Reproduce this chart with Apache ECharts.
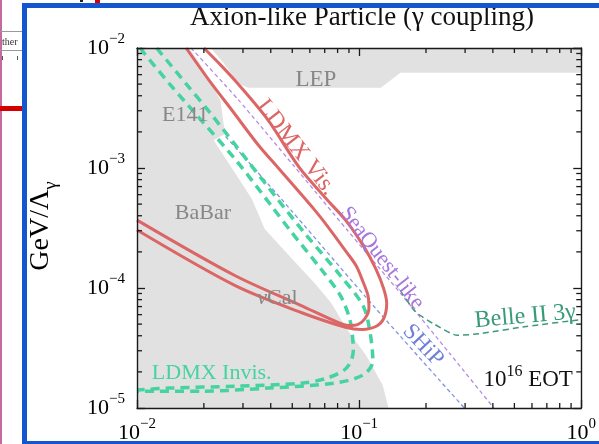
<!DOCTYPE html>
<html><head><meta charset="utf-8">
<script src="https://cdn.jsdelivr.net/npm/echarts@6/dist/echarts.min.js"></script>
<style>html,body{margin:0;padding:0;background:#fff;overflow:hidden}#c{width:599px;height:444px}</style>
</head><body><div id="c"></div>
<script>
// ---------------- data: mass m [GeV], coupling g [1/GeV] ----------------
const xTickExponents = [-2, -1, 0];
const yTickExponents = [-5, -4, -3, -2];

// excluded region E141 / BaBar / nuCal (gray)
const e141Region = [[0.01,0.01],[0.01716,0.01],[0.0190,7.66e-3],[0.02083,5.75e-3],[0.02377,3.64e-3],
  [0.02452,2.35e-3],[0.02502,1.94e-3],[0.02214,1.70e-3],[0.0277,9.03e-4],[0.03294,5.50e-4],
  [0.03759,3.10e-4],[0.04753,1.93e-4],[0.06324,1.09e-4],[0.07517,7.42e-5],[0.0876,4.60e-5],
  [0.1074,2.75e-5],[0.1277,1.55e-5],[0.1357,1e-5],[0.01,1e-5]];
// excluded region LEP (gray)
const lepRegion = [[0.02147,0.01],[0.02452,7.51e-3],[0.0277,5.53e-3],[0.02944,4.93e-3],[0.03162,4.66e-3],
  [0.1251,4.66e-3],[0.1534,6.21e-3],[1,6.21e-3],[1,0.01]];
// LDMX visible (two contours)
const ldmxVisInner = [[0.01664,0.01],[0.02104,5.43e-3],[0.02687,3.00e-3],[0.03501,1.57e-3],[0.04337,9.94e-4],
  [0.0626,4.54e-4],[0.07365,3.10e-4],[0.0876,2.00e-4],[0.0970,1.53e-4],[0.1041,1.128e-4],[0.1096,8.64e-5],
  [0.1107,6.74e-5],[0.1063,5.57e-5],[0.0990,4.97e-5],[0.0903,4.87e-5],[0.0824,5.06e-5],[0.05483,7.14e-5],
  [0.0277,1.265e-4],[0.01,3.68e-4]];
const ldmxVisOuter = [[0.0200,0.01],[0.02377,7.23e-3],[0.0277,5.33e-3],[0.03877,2.53e-3],[0.05373,1.013e-3],
  [0.07145,5.50e-4],[0.0876,3.61e-4],[0.1052,2.20e-4],[0.1189,1.446e-4],[0.1290,9.87e-5],[0.1331,7.42e-5],
  [0.1290,5.57e-5],[0.1189,4.78e-5],[0.1031,4.52e-5],[0.0876,4.69e-5],[0.05483,6.25e-5],[0.0277,1.045e-4],
  [0.01,3.04e-4]];
// projections
const seaquestLike = [[0.01751,0.01],[0.02856,3.71e-3],[0.05105,1.032e-3],[0.0876,3.10e-4],[0.1566,8.64e-5],
  [0.2553,2.86e-5],[0.4039,1e-5]];
const ship = [[0.01096,0.01],[0.02827,1.427e-3],[0.04471,5.50e-4],[0.1189,6.74e-5],[0.2976,1e-5]];
const ldmxInvisInner = [[0.01031,0.01],[0.0140,5.03e-3],[0.0190,2.63e-3],[0.0277,1.18e-3],[0.04039,4.81e-4],
  [0.04952,2.93e-4],[0.0672,1.446e-4],[0.0824,8.64e-5],[0.09125,5.26e-5],[0.0941,2.97e-5],[0.0876,2.15e-5],
  [0.07145,1.77e-5],[0.05483,1.61e-5],[0.0277,1.52e-5],[0.0140,1.465e-5],[0.01,1.41e-5]];
const ldmxInvisOuter = [[0.01226,0.01],[0.01664,5.03e-3],[0.02147,2.84e-3],[0.03162,1.136e-3],[0.04293,5.50e-4],
  [0.0583,2.71e-4],[0.0824,1.265e-4],[0.1041,7.14e-5],[0.1118,4.35e-5],[0.1153,2.45e-5],[0.1041,1.88e-5],
  [0.07674,1.61e-5],[0.03877,1.465e-5],[0.0198,1.38e-5],[0.01,1.38e-5]];
const belle2 = [[0.1534,9.50e-5],[0.1788,6.36e-5],[0.2191,4.97e-5],[0.2771,4.03e-5],[0.3538,4.18e-5],
  [0.5653,4.78e-5],[1,5.46e-5]];

// ---------------- styling ----------------
const FONT = "'Liberation Serif','Times New Roman',serif";
const GRAY_FILL = '#e1e1e1';
const RED = '#dc6666';
const MINT = '#45d3a0';
const PURPLE = '#b58ae4';
const BLUE = '#8393de';
const TEAL = '#3a9a78';
const AXCOL = '#1a1a1a';
const X_MIN = 0.01, X_MAX = 1, Y_MIN = 1e-5, Y_MAX = 1e-2;

const supRich = (size, sup, col) => ({
  b: {fontSize: size, fontFamily: FONT, color: col, padding: [5,0,5,0], verticalAlign: 'bottom'},
  s: {fontSize: sup, fontFamily: FONT, color: col, verticalAlign: 'top'},
  i: {fontSize: size, fontFamily: FONT, color: col, fontStyle: 'italic'}
});

const annotations = [
  {text:'LEP', at:[0.0639,5.43e-3], color:'#878787', size:23},
  {text:'E141', at:[0.01648,2.73e-3], color:'#878787', size:22},
  {text:'BaBar', at:[0.0198,4.21e-4], color:'#878787', size:22},
  {text:'{i|ν}{r|Cal}', at:[0.0429,8.16e-5], color:'#878787', size:22},
  {text:'LDMX Vis.', at:[0.0521,1.48e-3], color:RED, size:24, rot:-52},
  {text:'SeaQuest-like', at:[0.1264,1.78e-4], color:'#a676dc', size:22, rot:-52},
  {text:'SHiP', at:[0.194,3.33e-5], color:'#6f80d8', size:23, rot:-47},
  {text:'Belle II 3γ', at:[0.5596,5.79e-5], color:TEAL, size:24, rot:5},
  {text:'LDMX Invis.', at:[0.02169,1.95e-5], color:MINT, size:22},
  {text:'{b|10}{s|16}{b| EOT}', at:[0.5768,1.71e-5], color:'#111', size:23}
];

function expLabel(v){
  const e = Math.round(Math.log10(v));
  return '{b|10}{s|' + (e < 0 ? '\u2212' + (-e) : '' + e) + '}';
}
function polygonSeries(name, pts, z){
  return {name, type:'custom', coordinateSystem:'cartesian2d', z, silent:true, clip:true,
    data: pts,
    renderItem: (params, api) => params.dataIndex !== 0 ? null : {
      type:'polygon', shape:{points: pts.map(p => api.coord(p))},
      style:{fill: GRAY_FILL, stroke: null}
    }};
}
function lineSeries(name, pts, color, width, type, z, smooth){
  return {name, type:'line', data: pts, z, silent:true, symbol:'none', smooth: smooth,
    lineStyle:{color, width, type, cap:'butt'}};
}
// minor tick values (2..9 multiples of each decade); decades use the axis' own ticks
const xMinor = [], yMinor = [];
for (let e = -2; e < 0; e++) for (let d = 2; d <= 9; d++) xMinor.push(d*Math.pow(10,e));
for (let e = -5; e < -2; e++) for (let d = 2; d <= 9; d++) yMinor.push(d*Math.pow(10,e));

const chart = echarts.init(document.getElementById('c'), null, {renderer:'canvas', width:599, height:444});
const majorTick = () => ({show:true, inside:true, length:8, lineStyle:{color:AXCOL, width:1.3}});
const baseAxis = () => ({type:'log', logBase:10, z:10, splitLine:{show:false}, axisTick:majorTick(), minorTick:{show:false},
  axisLine:{show:true, onZero:false, lineStyle:{color:AXCOL, width:1.4}}});

chart.setOption({
  animation:false,
  backgroundColor:'#ffffff',
  grid:{left:137, top:48, width:452, height:362},
  xAxis:[
    Object.assign(baseAxis(), {min:X_MIN, max:X_MAX, position:'bottom',
      axisLabel:{margin:9, formatter:expLabel, rich: supRich(22,15,'#000'), showMinLabel:true, showMaxLabel:true, hideOverlap:false}}),
    Object.assign(baseAxis(), {min:X_MIN, max:X_MAX, position:'top', axisLabel:{show:false}})
  ],
  yAxis:[
    Object.assign(baseAxis(), {min:Y_MIN, max:Y_MAX, position:'left',
      axisLabel:{margin:12, formatter:expLabel, rich: supRich(22,15,'#000'), showMinLabel:true, showMaxLabel:true, hideOverlap:false}}),
    Object.assign(baseAxis(), {min:Y_MIN, max:Y_MAX, position:'right', axisLabel:{show:false}})
  ],
  series:[
    lineSeries('SHiP', ship, BLUE, 1.3, [4,3], 1, 0.2),
    polygonSeries('E141 / BaBar / nuCal', e141Region, 2),
    polygonSeries('LEP', lepRegion, 2),
    lineSeries('SeaQuest-like', seaquestLike, PURPLE, 1.3, [4,3], 3, 0.2),
    lineSeries('Belle II 3gamma', belle2, TEAL, 1.5, [6,4], 3, 0.2),
    lineSeries('LDMX Invis. inner', ldmxInvisInner, MINT, 3.5, [9,6], 4, 0.3),
    lineSeries('LDMX Invis. outer', ldmxInvisOuter, MINT, 3.5, [9,6], 4, 0.3),
    lineSeries('LDMX Vis. inner', ldmxVisInner, RED, 3, 'solid', 5, 0.3),
    lineSeries('LDMX Vis. outer', ldmxVisOuter, RED, 3, 'solid', 5, 0.3),
    {name:'labels', type:'custom', coordinateSystem:'cartesian2d', z:6, silent:true,
      data: annotations.map(a => a.at),
      renderItem:(params, api) => {
        const a = annotations[params.dataIndex];
        const p = api.coord(a.at);
        const rich = supRich(a.size, Math.round(a.size*0.7), a.color);
        rich.r = {fontSize:a.size, fontFamily:FONT, color:a.color};
        return {type:'text', x:p[0], y:p[1], rotation:(a.rot||0)*Math.PI/180,
          style:{text:a.text, fill:a.color, font: a.size+'px '+FONT, align:'center', verticalAlign:'middle', rich}};
      }}
  ]
});

// ---- minor ticks as short lines placed through the chart's own scales ----
const graphics = [];
const toPx = (x, y) => chart.convertToPixel({xAxisIndex:0, yAxisIndex:0}, [x, y]);
function tick(x1, y1, x2, y2){
  graphics.push({type:'line', z:60, silent:true, shape:{x1, y1, x2, y2}, style:{stroke:AXCOL, lineWidth:1.3}});
}
const ML = 5;
xMinor.forEach(v => {
  const b = toPx(v, Y_MIN), t = toPx(v, Y_MAX);
  tick(b[0], b[1], b[0], b[1]-ML); tick(t[0], t[1], t[0], t[1]+ML);
});
yMinor.forEach(v => {
  const l = toPx(X_MIN, v), r = toPx(X_MAX, v);
  tick(l[0], l[1], l[0]+ML, l[1]); tick(r[0], r[1], r[0]-ML, r[1]);
});

graphics.push(
  {type:'text', z:50, x:362, y:18, style:{text:'Axion-like Particle (γ coupling)', font:'27px '+FONT, fill:'#111', align:'center', verticalAlign:'middle'}},
  {type:'text', z:50, x:44, y:226, rotation:Math.PI/2,
    style:{text:'{m|GeV/Λ}{g|γ}', align:'center', verticalAlign:'middle',
      rich:{m:{fontSize:28, fontFamily:FONT, color:'#111', padding:[0,0,6,0], verticalAlign:'top'},
            g:{fontSize:19, fontFamily:FONT, color:'#111', verticalAlign:'bottom'}}}},
  // surrounding slide frame and bits of neighbouring content
  {type:'rect', z:100, silent:true, shape:{x:24.5, y:5.5, width:700, height:438}, style:{fill:null, stroke:'#1655d0', lineWidth:5}},
  {type:'rect', z:100, silent:true, shape:{x:0, y:0, width:2, height:444}, style:{fill:'#c46a9c'}},
  {type:'rect', z:100, silent:true, shape:{x:0, y:106, width:22, height:5}, style:{fill:'#d40000'}},
  {type:'rect', z:100, silent:true, shape:{x:95, y:0, width:5, height:3}, style:{fill:'#d40000'}},
  {type:'rect', z:100, silent:true, shape:{x:80, y:0, width:3, height:2}, style:{fill:'#222'}},
  {type:'line', z:100, silent:true, shape:{x1:0, y1:31.5, x2:22, y2:31.5}, style:{stroke:'#999', lineWidth:1}},
  {type:'line', z:100, silent:true, shape:{x1:0, y1:50.5, x2:22, y2:50.5}, style:{stroke:'#999', lineWidth:1}},
  {type:'line', z:100, silent:true, shape:{x1:2.5, y1:56, x2:2.5, y2:60}, style:{stroke:'#555', lineWidth:1}},
  {type:'line', z:100, silent:true, shape:{x1:17.5, y1:56, x2:17.5, y2:60}, style:{stroke:'#555', lineWidth:1}},
  {type:'text', z:100, silent:true, x:2, y:42, style:{text:'ther', font:'10px '+FONT, fill:'#333', verticalAlign:'middle'}}
);
chart.setOption({graphic: graphics});
</script></body></html>
